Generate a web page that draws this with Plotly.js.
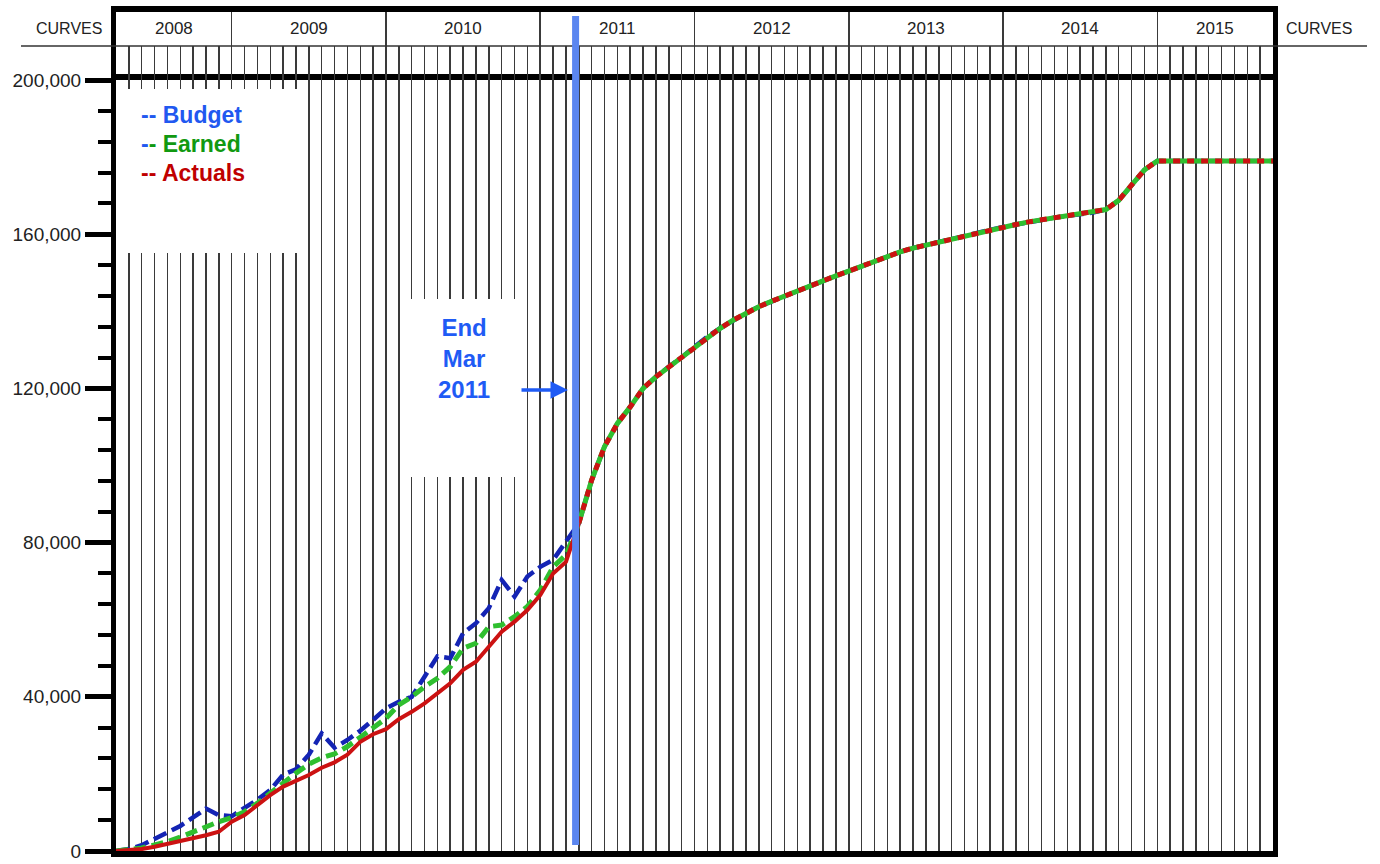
<!DOCTYPE html>
<html>
<head>
<meta charset="utf-8">
<script src="https://cdn.plot.ly/plotly-3.0.1.min.js"></script>
<style>html,body{margin:0;padding:0;background:#fff;}#chart{width:1380px;height:864px;}</style>
</head>
<body>
<div id="chart"></div>
<script>
// ---- Data (month index 0 = start of Apr 2008, 90 = end of Sep 2015) ----
const years = ['2008','2009','2010','2011','2012','2013','2014','2015'];
const yearStart = [0, 9, 21, 33, 45, 57, 69, 81];
const yearEnd   = [9, 21, 33, 45, 57, 69, 81, 90];
const cutoffMonth = 35.75;           // End Mar 2011 marker

// actual-period values, months 0..35
const budget = [0, 500, 1500, 3200, 4800, 6500, 8700, 11000, 9300, 9000,
  11200, 13300, 15800, 19800, 21200, 25000, 30500, 26800, 28800, 31200,
  34000, 37000, 38700, 40000, 45200, 50500, 50000, 56500, 59100, 63000,
  70300, 66000, 71200, 73700, 75500, 80200];
const earned = [0, 300, 800, 1600, 2400, 3600, 5000, 6300, 7600, 8700,
  10200, 12400, 15000, 17800, 20200, 22500, 24200, 25200, 27100, 29500,
  31800, 34400, 37900, 40000, 42600, 44800, 47800, 52600, 53900, 58200,
  58600, 60800, 63400, 67700, 73700, 76800];
const actuals = [0, 200, 500, 1100, 1800, 2500, 3200, 4100, 5000, 7600,
  9300, 11900, 14500, 16700, 18200, 19700, 21600, 23000, 25000, 28300,
  30300, 31600, 34200, 36100, 38300, 40900, 43500, 47000, 49100, 53000,
  56900, 59500, 62500, 66400, 72000, 75000];
// forecast values, months 36..90 (all curves coincide)
const forecast = [85000, 96200, 104900, 110900, 115200, 120000, 123000, 125600, 128000, 130800,
  133400, 135600, 137700, 139500, 141200, 142600, 144000, 145300, 146600, 147900,
  149200, 150500, 151700, 153000, 154100, 155400, 156400, 157200, 158000, 158800,
  159500, 160300, 161100, 161900, 162500, 163200, 163700, 164300, 164800, 165200,
  165600, 166400, 168800, 172700, 176700, 179000, 179000, 179000, 179000, 179000,
  179000, 179000, 179000, 179000, 179000];
const yTicks = [0, 40000, 80000, 120000, 160000, 200000];

// ---- helpers ----
const idx = (n, start) => Array.from({length: n}, (_, k) => k + start);
const nAct = budget.length;
const fStart = nAct;
const xAct = idx(nAct + 1, 0);
const xFc = idx(forecast.length, fStart);
const xAll = idx(nAct + forecast.length, 0);

const C_BUDGET = '#1424b4', C_EARNED = '#2fbf2f', C_ACT = '#cc1212';
const SANS = '"Liberation Sans", Arial, sans-serif';

const traces = [
  {x: xAll, y: budget.concat(forecast), mode: 'lines', name: 'Budget',
   line: {color: C_BUDGET, width: 4.5, dash: '14px,6px'}},
  {x: xAct, y: earned.concat([forecast[0]]), mode: 'lines', name: 'Earned',
   line: {color: C_EARNED, width: 5, dash: '12px,6px'}},
  {x: xAct, y: actuals.concat([forecast[0]]), mode: 'lines', name: 'Actuals',
   line: {color: C_ACT, width: 4}},
  {x: xFc, y: forecast, mode: 'lines', name: 'Earned forecast',
   line: {color: C_EARNED, width: 5}},
  {x: xFc, y: forecast, mode: 'lines', name: 'Actuals forecast',
   line: {color: C_ACT, width: 5, dash: '7px,7px'}},
  // invisible helpers so the header subplots exist
  {x: [0, 90], y: [0, 1], xaxis: 'x2', yaxis: 'y3', mode: 'markers', marker: {opacity: 0}, hoverinfo: 'skip'},
  {x: [0, 90], y: [0, 1], xaxis: 'x3', yaxis: 'y4', mode: 'markers', marker: {opacity: 0}, hoverinfo: 'skip'}
];

// pixel geometry helpers (paper coords)
const L = 116, R = 1273, T = 12, B = 851;
const px = v => (v - L) / (R - L);
const py = v => (B - v) / (B - T);

const yTickCommon = {
  range: [0, 200000], tickvals: yTicks, tickformat: ',d',
  ticks: 'outside', ticklen: 26, tickwidth: 5, tickcolor: '#000',
  tickfont: {family: SANS, size: 19, color: '#222'},
  minor: {ticks: 'outside', ticklen: 13, tickwidth: 4, tickcolor: '#000', dtick: 8000, showgrid: false},
  showgrid: false, zeroline: false, fixedrange: true
};

const annotations = [];
years.forEach((yr, k) => {
  annotations.push({xref: 'x', yref: 'paper', x: (yearStart[k] + yearEnd[k]) / 2, y: py(29),
    text: yr, showarrow: false, xanchor: 'center', yanchor: 'middle',
    font: {family: SANS, size: 17, color: '#222'}});
});
annotations.push({xref: 'paper', yref: 'paper', x: px(69), y: py(29), text: 'CURVES', showarrow: false,
  xanchor: 'center', yanchor: 'middle', font: {family: SANS, size: 16, color: '#222'}});
annotations.push({xref: 'paper', yref: 'paper', x: px(1319), y: py(29), text: 'CURVES', showarrow: false,
  xanchor: 'center', yanchor: 'middle', font: {family: SANS, size: 16, color: '#222'}});
// legend text
const legendRows = [
  ['<span style="color:#2158f0">--</span> <span style="color:#2158f0">Budget</span>', 115],
  ['<span style="color:#2158f0">-</span><span style="color:#119911">-</span> <span style="color:#119911">Earned</span>', 144],
  ['<span style="color:#c00000">--</span> <span style="color:#c00000">Actuals</span>', 173]
];
legendRows.forEach(r => annotations.push({xref: 'paper', yref: 'paper', x: px(139), y: py(r[1]),
  text: '<b>' + r[0] + '</b>', showarrow: false, xanchor: 'left', yanchor: 'middle',
  font: {family: SANS, size: 23}}));
// End Mar 2011 label
annotations.push({xref: 'paper', yref: 'paper', x: px(464), y: py(358),
  text: '<b>End<br>Mar<br>2011</b>', showarrow: false, xanchor: 'center', yanchor: 'middle',
  align: 'center', font: {family: SANS, size: 24, color: '#1f5bf5'}});
// arrow
annotations.push({xref: 'paper', yref: 'paper', x: px(568), y: py(390), ax: -48, ay: 0,
  text: '', showarrow: true, arrowhead: 2, arrowsize: 1, arrowwidth: 3.5, arrowcolor: '#1f5bf5'});

const shapes = [
  // legend white box
  {type: 'rect', xref: 'paper', yref: 'paper', x0: px(118), x1: px(302), y0: py(253), y1: py(89),
   fillcolor: '#fff', line: {width: 0}, layer: 'above'},
  // annotation white box
  {type: 'rect', xref: 'paper', yref: 'paper', x0: px(404), x1: px(520), y0: py(477), y1: py(299),
   fillcolor: '#fff', line: {width: 0}, layer: 'above'},
  // CURVES underline
  {type: 'line', xref: 'paper', yref: 'paper', x0: px(21), x1: px(1367), y0: py(46), y1: py(46),
   line: {color: '#333', width: 1.5}, layer: 'above'},
  // cutoff vertical line
  {type: 'line', xref: 'x', yref: 'paper', x0: cutoffMonth, x1: cutoffMonth, y0: py(845), y1: py(16),
   line: {color: '#5b86f0', width: 7}, layer: 'above'}
];

const layout = {
  width: 1380, height: 864,
  margin: {l: L, r: 1380 - R, t: T, b: 864 - B, pad: 0},
  paper_bgcolor: '#fff', plot_bgcolor: '#fff',
  showlegend: false,
  xaxis: {domain: [0, 1], range: [0, 90], anchor: 'y', showgrid: true, dtick: 1, tick0: 0,
    gridcolor: '#3a3a3a', gridwidth: 1.5, showline: true, linewidth: 6, linecolor: '#000', mirror: true,
    ticks: '', showticklabels: false, zeroline: false, fixedrange: true},
  yaxis: Object.assign({domain: [0, py(80)], anchor: 'x', side: 'left', showline: true,
    linewidth: 5, linecolor: '#000', mirror: true}, yTickCommon),
  yaxis2: Object.assign({overlaying: 'y', anchor: 'x', side: 'right', showline: false}, yTickCommon),
  xaxis2: {domain: [0, 1], range: [0, 90], anchor: 'y3', matches: 'x', showgrid: true, dtick: 1, tick0: 0,
    gridcolor: '#3a3a3a', gridwidth: 1.5, showline: false, ticks: '', showticklabels: false, zeroline: false},
  yaxis3: {domain: [py(80), py(46)], range: [0, 1], anchor: 'x2', showgrid: false, showline: true,
    linewidth: 5, linecolor: '#000', mirror: true, ticks: '', showticklabels: false, zeroline: false, fixedrange: true},
  xaxis3: {domain: [0, 1], range: [0, 90], anchor: 'y4', matches: 'x', showgrid: true,
    tickvals: yearStart.slice(1), gridcolor: '#3a3a3a', gridwidth: 1.5, showline: true, side: 'top',
    linewidth: 6, linecolor: '#000', ticks: '', showticklabels: false, zeroline: false},
  yaxis4: {domain: [py(46), 1], range: [0, 1], anchor: 'x3', showgrid: false, showline: true,
    linewidth: 5, linecolor: '#000', mirror: true, ticks: '', showticklabels: false, zeroline: false, fixedrange: true},
  annotations: annotations,
  shapes: shapes
};

Plotly.newPlot('chart', traces, layout, {displayModeBar: false, staticPlot: true});
</script>
</body>
</html>
